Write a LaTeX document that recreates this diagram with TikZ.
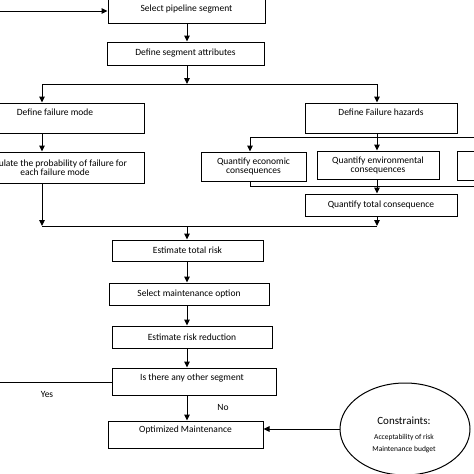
\documentclass[tikz,border=0pt]{standalone}
\usepackage{fontspec}
\setmainfont{Carlito}
\usetikzlibrary{arrows.meta,shapes.geometric}
\tikzset{
  box/.style={draw,line width=1pt,inner sep=0pt,rectangle,align=center,font=\fontsize{9.5}{9.5}\selectfont},
  txt/.style={inner sep=0pt,align=center,font=\fontsize{9.5}{9.5}\selectfont},
  ln/.style={line width=1pt},
  arr/.style={line width=1pt,-{Triangle[length=6pt,width=5.5pt]}}
}
\begin{document}
\begin{tikzpicture}[x=1pt,y=-1pt]
\useasboundingbox (0,0) rectangle (474,474);
\clip (0,0) rectangle (474,474);
% boxes
\node[box,minimum width=157pt,minimum height=28pt] (sel) at (186.5,9) {Select pipeline segment};
\node[box,minimum width=157pt,minimum height=23pt] (attr) at (185.5,53.5) {Define segment attributes};
\node[box,minimum width=178pt,minimum height=30pt] (fmode) at (55,118) {};
\node[txt] (fmodet) at (55,112) {Define failure mode};
\node[box,minimum width=178pt,minimum height=31pt] (calc) at (55,167.5) {Calculate the probability of failure for\\[-0.5pt]each failure mode};
\node[box,minimum width=152pt,minimum height=30pt] (haz) at (381,118) {};
\node[txt] (hazt) at (381,112) {Define Failure hazards};
\node[box,minimum width=105pt,minimum height=29pt] (econ) at (253.5,166.5) {Quantify economic\\[-0.5pt]consequences};
\node[box,minimum width=122pt,minimum height=28pt] (env) at (378,165) {Quantify environmental\\[-0.5pt]consequences};
\node[box,minimum width=120pt,minimum height=29pt] (third) at (517,165.5) {};
\node[box,minimum width=152pt,minimum height=22pt] (tot) at (381,205) {Quantify total consequence};
\node[box,minimum width=151pt,minimum height=21pt] (risk) at (187.5,250.5) {Estimate total risk};
\node[box,minimum width=160pt,minimum height=22pt] (opt) at (189,294) {Select maintenance option};
\node[box,minimum width=160pt,minimum height=22pt] (red) at (192,337) {Estimate risk reduction};
\node[box,minimum width=164pt,minimum height=27pt] (other) at (194,381.5) {};
\node[txt] (othert) at (192,378) {Is there any other segment};
\node[box,minimum width=155pt,minimum height=27pt] (optm) at (185.5,434.5) {};
\node[txt] (optmt) at (185.5,430) {Optimized Maintenance};
\node[draw,line width=1pt,ellipse,minimum width=130pt,minimum height=92pt,inner sep=0pt] (con) at (405,429) {};
\node[inner sep=0pt,align=center] (cont) at (404,435) {{\fontsize{11}{11}\selectfont Constraints:}\\[3pt]{\fontsize{7.5}{12}\selectfont Acceptability of risk}\\[-0.5pt]{\fontsize{7.5}{9}\selectfont Maintenance budget}};
\node[txt] (yes) at (47,394) {Yes};
\node[txt] (no) at (223,407) {No};
% coordinates
\coordinate (inL) at (0,11);
\coordinate (sL) at (42,84);
\coordinate (sR) at (377,84);
\coordinate (hL) at (250,137);
\coordinate (hR) at (517,137);
\coordinate (gL) at (250,186);
\coordinate (gR) at (517,186);
\coordinate (jL) at (42,226);
\coordinate (jM) at (187,226);
\coordinate (jR) at (377,226);
\coordinate (oL) at (0,382);
% connectors
\draw[arr] (inL) -- (inL -| sel.west);
\draw[arr] (jM |- sel.south) -- (jM |- attr.north);
\draw[arr] (jM |- attr.south) -- (jM |- sL);
\draw[ln] (sL) -- (sR);
\draw[arr] (sL) -- (sL |- fmode.north);
\draw[arr] (sR) -- (sR |- haz.north);
\draw[arr] (sL |- fmode.south) -- (sL |- calc.north);
\draw[arr] (sL |- calc.south) -- (jL);
\draw[ln] (jL) -- (jR);
\draw[arr] (sR |- haz.south) -- (sR |- env.north);
\draw[ln] (hL) -- (hR);
\draw[arr] (hL) -- (hL |- econ.north);
\draw[arr] (hR) -- (hR |- third.north);
\draw[ln] (hL |- econ.south) -- (gL) -- (gR) -- (gR |- third.south);
\draw[arr] (sR |- env.south) -- (sR |- tot.north);
\draw[arr] (sR |- tot.south) -- (jR);
\draw[arr] (jM) -- (jM |- risk.north);
\draw[arr] (jM |- risk.south) -- (jM |- opt.north);
\draw[arr] (jM |- opt.south) -- (jM |- red.north);
\draw[arr] (jM |- red.south) -- (jM |- other.north);
\draw[arr] (jM |- other.south) -- (jM |- optm.north);
\draw[ln] (oL) -- (oL -| other.west);
\draw[arr] (con.west) -- (con.west -| optm.east);
\end{tikzpicture}
\end{document}
